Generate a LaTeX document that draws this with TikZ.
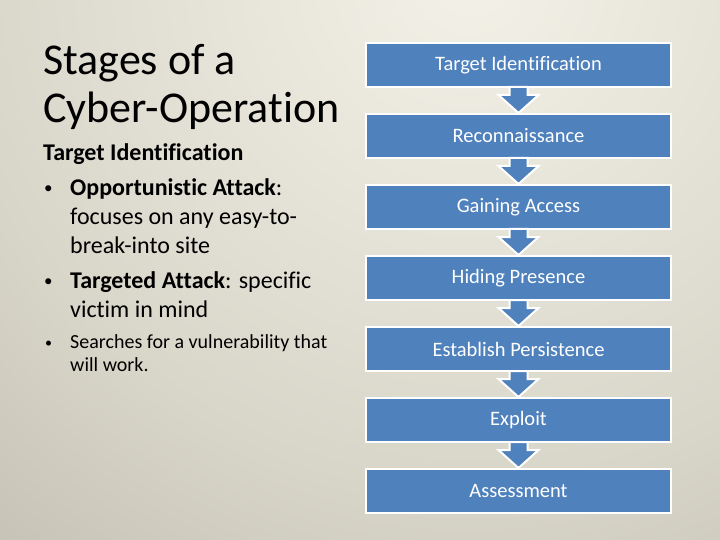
\documentclass[tikz,border=0pt]{standalone}
\usepackage{fontspec}
\setmainfont{Carlito}[RawFeature={-liga}]
\usetikzlibrary{positioning}

\definecolor{stageblue}{RGB}{79,129,189}
\definecolor{bgA}{HTML}{F4F2E8}
\definecolor{bgB}{HTML}{D8D5C9}
\definecolor{bgC}{HTML}{AEAB9D}
\definecolor{bgD}{HTML}{888474}
\pgfdeclareradialshading{slidebg}{\pgfpoint{0bp}{0bp}}{color(0bp)=(bgA); color(17bp)=(bgB); color(35bp)=(bgC); color(50bp)=(bgD)}

\begin{document}
\begin{tikzpicture}[
        x=1pt,y=-1pt,
        stagebox/.style={draw=white,line width=2pt,fill=stageblue,text=white,
          minimum width=305pt,minimum height=44pt,inner sep=0pt,
          font=\fontsize{20.5}{24}\selectfont},
        stagearrow/.style={draw=white,line width=2pt,fill=stageblue,line join=miter},
        titletext/.style={anchor=base west,inner sep=0pt,font=\fontsize{44}{48}\selectfont},
        bodytext/.style={anchor=base west,inner sep=0pt,font=\fontsize{24}{28}\selectfont},
        smalltext/.style={anchor=base west,inner sep=0pt,font=\fontsize{20}{24}\selectfont},
        dot/.style={anchor=base west,inner sep=0pt,font=\fontsize{17}{20}\selectfont}
      ]
      % Slide background
      \useasboundingbox (0,0) rectangle (720,540);
      \begin{scope}
        \clip (0,0) rectangle (720,540);
        \shade[shading=slidebg] (470,-30) circle (760);
      \end{scope}

      % Title and notes
      \node[titletext] (title1) at (43,75) {Stages of a};
      \node[titletext] (title2) at (43,123) {Cyber-Operation};
      \node[bodytext] (heading) at (43,161) {\textbf{Target Identification}};
      \node[dot] (b1) at (44,194) {•};
      \node[bodytext] (l1a) at (70,196) {\textbf{Opportunistic Attack}:};
      \node[bodytext] (l1b) at (70,225) {focuses on any easy-to-};
      \node[bodytext] (l1c) at (70,254) {break-into site};
      \node[dot] (b2) at (44,286) {•};
      \node[bodytext] (l2a) at (70,288) {\textbf{Targeted Attack}: specific};
      \node[bodytext] (l2b) at (70,317) {victim in mind};
      \node[dot,font=\fontsize{14}{16}\selectfont] (b3) at (45,347) {•};
      \node[smalltext] (l3a) at (70,348) {Searches for a vulnerability that};
      \node[smalltext] (l3b) at (70,371) {will work.};

      % Stages
      \node[stagebox] (tid) at (518.5,65) {Target Identification};
      \node[stagebox,below=25pt of tid] (recon) {Reconnaissance};
      \node[stagebox,below=25pt of recon] (gain) {Gaining Access};
      \node[stagebox,below=25pt of gain] (hide) {Hiding Presence};
      \node[stagebox,below=25pt of hide] (persist) {Establish Persistence};
      \node[stagebox,below=25pt of persist] (exploit) {Exploit};
      \node[stagebox,below=25pt of exploit] (assess) {Assessment};

      \foreach \a/\b in {tid/recon,recon/gain,gain/hide,hide/persist,persist/exploit,exploit/assess}
        \draw[stagearrow] ([xshift=-9pt,yshift=1pt]\a.south) -- ([xshift=-9pt,yshift=-7pt]\a.south)
          -- ([xshift=-20pt,yshift=-7pt]\a.south) -- (\b.north)
          -- ([xshift=20pt,yshift=-7pt]\a.south) -- ([xshift=9pt,yshift=-7pt]\a.south)
          -- ([xshift=9pt,yshift=1pt]\a.south) -- cycle;
    \end{tikzpicture}
\end{document}
